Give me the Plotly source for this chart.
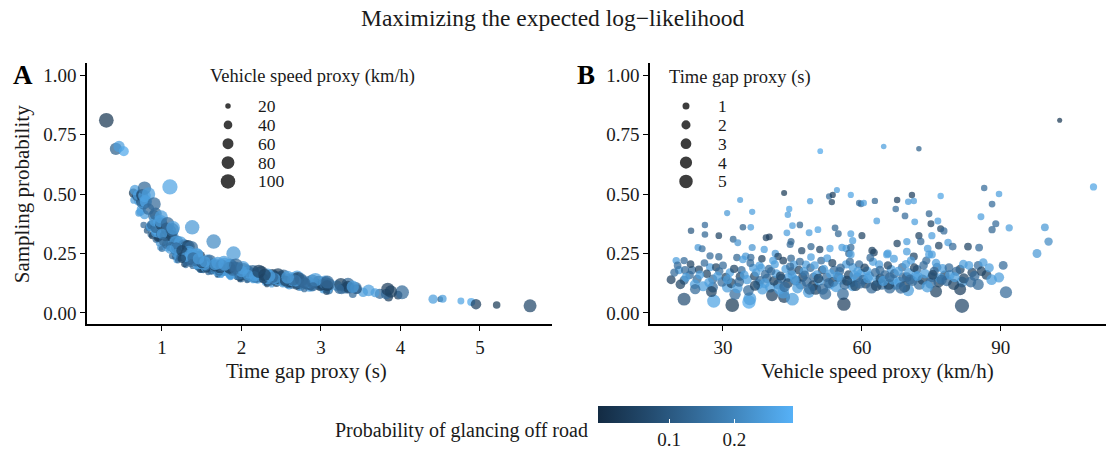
import math
import plotly.graph_objects as go

# ---------------- data ----------------
time_gap = [
    # outliers
    0.30, 0.42, 0.46, 0.52, 1.10, 1.38, 1.65, 1.90,
    # upper scattered points
    0.81, 0.77, 0.86, 0.98, 1.00, 1.13, 1.17, 0.88, 0.71, 0.93,
    0.97, 0.84, 0.65, 0.73, 0.85, 1.06, 0.95, 0.96, 0.64, 0.78,
    0.74, 0.86, 0.92, 1.06, 0.87, 1.17, 0.71, 0.95, 0.92, 1.16,
    0.69, 0.69, 0.66, 0.74, 0.92, 0.99, 0.70, 0.76, 1.08, 1.17,
    0.77, 0.76, 0.75, 0.78, 0.75, 0.80, 0.79, 0.78, 0.83, 0.90,
    0.91, 0.96, 0.92, 0.99, 0.98, 1.06, 1.10, 1.13, 1.11, 1.19,
    1.04, 1.00, 1.18, 1.17, 1.28, 1.23, 1.31, 1.30, 1.33, 1.37,
    0.78, 0.83, 0.90, 0.99, 1.07, 1.13, 1.14, 1.31, 1.34, 1.34,
    1.47, 1.44, 1.02, 1.11, 1.16, 1.18, 1.18, 1.29, 1.20, 1.20,
    1.10, 1.18, 1.25, 1.31,
    # band points
    1.98, 1.18, 1.20, 1.48, 1.50, 2.07, 4.50, 1.52, 2.00, 1.48,
    2.60, 1.45, 2.08, 2.72, 1.46, 1.98, 2.75, 5.21, 3.40, 1.95,
    1.28, 4.89, 4.53, 1.23, 1.54, 1.55, 2.58, 1.86, 2.88, 3.97,
    1.33, 2.64, 1.36, 3.85, 2.12, 1.77, 4.41, 1.49, 1.74, 2.73,
    1.50, 3.53, 2.19, 1.42, 1.78, 3.74, 2.81, 1.36, 1.79, 2.25,
    3.82, 4.95, 1.57, 1.70, 2.30, 1.31, 1.60, 2.00, 1.90, 1.25,
    1.63, 2.98, 1.36, 1.87, 3.05, 1.81, 2.44, 1.57, 1.93, 1.60,
    1.44, 2.50, 1.89, 2.97, 2.39, 1.95, 2.03, 3.05, 3.84, 5.63,
    2.25, 1.86, 1.78, 3.34, 2.70, 4.02,
    # tail / extra
    4.76, 3.20, 3.35, 3.45, 3.60, 3.68, 3.88,
    # dense fill
    1.70, 2.38, 1.71, 2.30, 1.62, 2.32, 1.69, 2.44, 2.85, 1.63,
    2.20, 3.10, 1.96, 1.75, 2.31, 3.03, 2.16, 1.61, 2.34, 1.85,
    3.09, 2.18, 1.65, 2.58, 1.95, 2.42, 3.05, 2.16, 1.80, 2.54,
    1.64, 2.87, 2.00, 2.47, 3.26, 2.21, 1.97, 2.62, 3.06, 1.87,
    2.45, 2.84, 2.08, 2.67, 2.99, 1.91, 2.50, 2.80, 2.22, 3.31,
    2.01, 2.65, 2.45, 2.16, 3.02, 2.60, 2.11, 2.84, 2.42, 3.34,
    2.09, 2.76, 2.35, 3.10, 2.70, 2.19, 3.05, 2.08, 2.64, 2.89,
    2.33, 3.25, 2.14, 2.71, 1.85, 2.53, 2.46, 2.93, 1.58, 2.32,
    # second fill
    1.30, 1.86, 1.28, 2.79, 1.74, 1.30, 3.07, 1.87, 1.39, 2.15,
    1.56, 2.35, 1.85, 1.36, 2.69, 1.44, 2.52, 1.72, 1.44, 2.00,
    2.90, 1.55, 2.33, 1.43, 1.97, 3.23, 1.54, 2.28, 1.72, 2.72,
    1.50, 2.16, 1.70, 2.55, 1.50, 2.08, 2.80, 1.73, 2.42, 1.54,
    3.08, 1.89, 2.68, 1.67, 2.39, 2.00, 3.44, 1.67, 2.65, 1.85,
    2.35, 1.75, 3.40, 2.29, 1.70, 2.75, 1.92, 2.58, 1.79, 3.08,
    2.22, 2.02, 1.93, 1.30, 1.39, 1.25, 1.46,
]

speed = [
    102.7, 72.3, 64.7, 51.0, 110.0, 99.5, 100.3, 97.8,
    23.1, 26.1, 26.1, 24.6, 25.5, 27.2, 29.1, 29.1, 30.9, 32.2,
    33.2, 34.3, 33.7, 36.3, 36.0, 36.3, 39.3, 40.0, 43.2, 44.0,
    44.3, 45.0, 43.8, 44.5, 46.6, 47.0, 48.8, 48.6, 50.5, 50.9,
    52.9, 53.7, 54.6, 53.5, 54.2, 54.9, 57.6, 59.4, 58.0, 55.7,
    59.8, 60.4, 62.8, 67.6, 70.8, 70.0, 71.2, 77.0, 67.3, 69.3,
    63.2, 71.4, 74.5, 74.9, 76.4, 77.0, 77.7, 75.1, 72.3, 72.7,
    60.0, 57.6, 67.6, 69.7, 76.6, 78.6, 79.6, 74.2, 82.9, 85.3,
    86.4, 89.6, 88.1, 85.7, 88.9, 88.1, 91.8, 62.6, 65.6, 69.7,
    71.2, 75.1, 44.7, 49.0, 53.1, 56.6, 57.6, 57.2, 33.0, 34.9,
    38.9, 41.3, 41.9, 44.7,
    18.8, 19.9, 21.6, 20.5, 21.8, 21.6, 21.6, 23.3, 24.4, 24.8,
    25.7, 27.2, 27.8, 27.8, 28.5, 30.6, 30.9, 32.0, 32.6, 33.7,
    34.3, 35.6, 35.8, 36.0, 36.5, 38.2, 37.6, 39.1, 40.2, 40.6,
    40.8, 41.9, 43.0, 43.2, 44.1, 44.8, 45.0, 45.3, 46.4, 46.8,
    47.9, 48.5, 49.6, 51.2, 51.4, 52.1, 53.0, 52.5, 54.0, 54.9,
    55.9, 56.1, 56.6, 58.0, 59.0, 57.6, 59.4, 59.8, 61.1, 62.2,
    63.7, 64.3, 65.4, 66.3, 67.4, 68.7, 69.7, 70.6, 71.9, 73.9,
    74.5, 75.1, 76.2, 76.6, 77.9, 77.4, 81.2, 81.6, 81.2, 81.6,
    83.8, 85.1, 86.2, 85.1, 89.6, 91.1,
    28.0, 58.0, 66.0, 50.0, 70.0, 43.0, 76.0,
    22.8, 23.9, 26.5, 27.0, 29.2, 29.8, 31.5, 31.8, 33.1, 34.0,
    35.2, 35.5, 36.8, 37.2, 38.0, 38.5, 39.5, 39.9, 41.0, 41.5,
    42.2, 42.6, 43.5, 44.0, 44.9, 45.8, 46.1, 47.2, 47.5, 48.1,
    48.9, 49.5, 50.2, 50.8, 51.5, 52.4, 53.2, 53.8, 54.4, 55.2,
    55.6, 56.3, 57.1, 57.8, 58.6, 59.1, 60.3, 60.8, 61.6, 62.1,
    62.9, 63.4, 64.0, 65.0, 65.8, 66.7, 67.0, 68.1, 68.9, 69.2,
    70.1, 70.9, 71.6, 72.4, 73.1, 73.6, 74.8, 75.6, 76.9, 78.3,
    79.0, 79.8, 80.4, 82.0, 83.1, 84.3, 86.9, 88.0, 19.5, 20.8,
    20.2, 22.0, 23.0, 24.0, 25.0, 26.0, 27.5, 28.8, 30.0, 31.0,
    32.4, 33.5, 34.6, 35.9, 36.9, 37.9, 39.0, 40.4, 41.2, 42.4,
    43.3, 44.5, 45.5, 46.6, 47.7, 48.7, 49.8, 50.6, 51.8, 52.8,
    53.6, 54.7, 55.4, 56.8, 57.4, 58.3, 59.6, 60.6, 61.3, 62.4,
    63.1, 63.9, 64.6, 65.6, 66.0, 67.8, 68.4, 69.5, 70.4, 71.3,
    72.0, 73.3, 74.1, 75.3, 76.0, 77.2, 78.8, 80.0, 81.9, 83.5,
    85.8, 87.5, 90.5, 49.0, 61.8, 38.4, 66.9,
]

sampling_prob = [
    0.81, 0.69, 0.70, 0.68, 0.53, 0.36, 0.30, 0.25,
    0.346, 0.37, 0.33, 0.275, 0.27, 0.24, 0.236, 0.325, 0.42, 0.31,
    0.295, 0.36, 0.475, 0.425, 0.36, 0.275, 0.316, 0.32, 0.504, 0.413,
    0.437, 0.367, 0.337, 0.288, 0.37, 0.262, 0.47, 0.337, 0.35, 0.267,
    0.49, 0.496, 0.517, 0.466, 0.358, 0.333, 0.496, 0.462, 0.304, 0.275,
    0.458, 0.462, 0.471, 0.475, 0.496, 0.467, 0.471, 0.492, 0.437, 0.408,
    0.387, 0.383, 0.417, 0.375, 0.387, 0.354, 0.345, 0.325, 0.325, 0.30,
    0.325, 0.333, 0.292, 0.30, 0.283, 0.296, 0.279, 0.271, 0.279, 0.275,
    0.525, 0.50, 0.458, 0.404, 0.375, 0.35, 0.358, 0.254, 0.25, 0.258,
    0.237, 0.246, 0.30, 0.279, 0.271, 0.271, 0.275, 0.25, 0.233, 0.238,
    0.267, 0.25, 0.237, 0.23,
    0.14, 0.22, 0.22, 0.18, 0.18, 0.1375, 0.058, 0.18, 0.142, 0.183,
    0.112, 0.192, 0.142, 0.108, 0.192, 0.15, 0.108, 0.033, 0.079, 0.154,
    0.225, 0.046, 0.06, 0.233, 0.19, 0.19, 0.12, 0.162, 0.108, 0.075,
    0.22, 0.12, 0.22, 0.067, 0.15, 0.175, 0.058, 0.204, 0.18, 0.12,
    0.204, 0.087, 0.15, 0.22, 0.18, 0.08, 0.12, 0.23, 0.18, 0.15,
    0.08, 0.037, 0.204, 0.192, 0.15, 0.246, 0.204, 0.167, 0.177, 0.262,
    0.204, 0.12, 0.246, 0.183, 0.12, 0.192, 0.15, 0.22, 0.183, 0.22,
    0.246, 0.15, 0.192, 0.13, 0.158, 0.187, 0.183, 0.13, 0.10, 0.03,
    0.17, 0.20, 0.212, 0.12, 0.15, 0.087,
    0.05, 0.115, 0.105, 0.10, 0.095, 0.085, 0.09,
    0.16, 0.12, 0.165, 0.128, 0.175, 0.13, 0.17, 0.125, 0.105, 0.18,
    0.14, 0.095, 0.155, 0.17, 0.135, 0.10, 0.145, 0.185, 0.135, 0.165,
    0.10, 0.145, 0.185, 0.125, 0.16, 0.135, 0.105, 0.15, 0.175, 0.13,
    0.19, 0.115, 0.16, 0.135, 0.10, 0.15, 0.165, 0.13, 0.11, 0.175,
    0.14, 0.12, 0.16, 0.13, 0.115, 0.175, 0.14, 0.125, 0.155, 0.105,
    0.17, 0.135, 0.145, 0.16, 0.12, 0.14, 0.165, 0.13, 0.15, 0.11,
    0.17, 0.135, 0.155, 0.12, 0.14, 0.165, 0.125, 0.175, 0.145, 0.135,
    0.16, 0.12, 0.175, 0.145, 0.20, 0.155, 0.16, 0.14, 0.17, 0.12,
    0.20, 0.15, 0.205, 0.10, 0.16, 0.21, 0.09, 0.155, 0.20, 0.14,
    0.185, 0.13, 0.16, 0.21, 0.115, 0.20, 0.125, 0.175, 0.205, 0.155,
    0.11, 0.195, 0.14, 0.215, 0.16, 0.10, 0.20, 0.145, 0.185, 0.125,
    0.21, 0.155, 0.19, 0.135, 0.215, 0.16, 0.125, 0.19, 0.145, 0.215,
    0.115, 0.18, 0.135, 0.20, 0.15, 0.175, 0.105, 0.205, 0.14, 0.19,
    0.155, 0.20, 0.11, 0.16, 0.21, 0.14, 0.19, 0.15, 0.205, 0.13,
    0.175, 0.19, 0.20, 0.235, 0.232, 0.228, 0.228,
]

glance_prob = [
    0.02, 0.12, 0.25, 0.27, 0.26, 0.24, 0.21, 0.24,
    0.10, 0.14, 0.13, 0.24, 0.15, 0.14, 0.13, 0.05, 0.24, 0.13,
    0.23, 0.12, 0.25, 0.25, 0.25, 0.23, 0.05, 0.04, 0.03, 0.25,
    0.26, 0.25, 0.25, 0.14, 0.13, 0.06, 0.25, 0.25, 0.26, 0.05,
    0.14, 0.04, 0.25, 0.05, 0.13, 0.13, 0.26, 0.14, 0.25, 0.25,
    0.14, 0.25, 0.13, 0.04, 0.04, 0.25, 0.25, 0.26, 0.14, 0.14,
    0.25, 0.25, 0.13, 0.05, 0.25, 0.05, 0.14, 0.25, 0.05, 0.14,
    0.05, 0.25, 0.05, 0.25, 0.05, 0.25, 0.14, 0.25, 0.05, 0.14,
    0.14, 0.25, 0.14, 0.25, 0.14, 0.13, 0.25, 0.05, 0.25, 0.25,
    0.05, 0.25, 0.13, 0.13, 0.26, 0.25, 0.14, 0.13, 0.13, 0.24,
    0.25, 0.24, 0.05, 0.13,
    0.04, 0.25, 0.14, 0.25, 0.14, 0.13, 0.08, 0.14, 0.13, 0.05,
    0.25, 0.25, 0.14, 0.14, 0.05, 0.05, 0.25, 0.03, 0.14, 0.05,
    0.25, 0.27, 0.25, 0.14, 0.25, 0.25, 0.25, 0.14, 0.25, 0.04,
    0.25, 0.14, 0.04, 0.04, 0.25, 0.14, 0.25, 0.25, 0.05, 0.14,
    0.25, 0.25, 0.14, 0.14, 0.04, 0.14, 0.25, 0.25, 0.14, 0.05,
    0.14, 0.04, 0.25, 0.25, 0.14, 0.25, 0.14, 0.25, 0.25, 0.05,
    0.25, 0.14, 0.25, 0.25, 0.25, 0.14, 0.05, 0.25, 0.14, 0.14,
    0.25, 0.14, 0.14, 0.05, 0.05, 0.25, 0.05, 0.25, 0.04, 0.06,
    0.05, 0.14, 0.25, 0.14, 0.25, 0.14,
    0.26, 0.25, 0.14, 0.05, 0.25, 0.25, 0.05,
    0.14, 0.25, 0.05, 0.25, 0.14, 0.14, 0.25, 0.05, 0.25, 0.14,
    0.25, 0.14, 0.05, 0.25, 0.14, 0.25, 0.14, 0.14, 0.05, 0.25,
    0.25, 0.14, 0.25, 0.05, 0.25, 0.14, 0.25, 0.05, 0.25, 0.14,
    0.14, 0.05, 0.25, 0.25, 0.14, 0.14, 0.25, 0.05, 0.25, 0.14,
    0.25, 0.14, 0.05, 0.25, 0.05, 0.25, 0.14, 0.05, 0.25, 0.14,
    0.14, 0.25, 0.05, 0.14, 0.05, 0.25, 0.14, 0.25, 0.14, 0.05,
    0.25, 0.14, 0.25, 0.14, 0.05, 0.25, 0.14, 0.14, 0.25, 0.14,
    0.25, 0.05, 0.14, 0.05, 0.25, 0.14, 0.05, 0.25, 0.14, 0.05,
    0.14, 0.25, 0.05, 0.14, 0.25, 0.14, 0.05, 0.25, 0.14, 0.25,
    0.05, 0.14, 0.25, 0.14, 0.05, 0.25, 0.25, 0.14, 0.25, 0.05,
    0.14, 0.14, 0.25, 0.14, 0.14, 0.14, 0.25, 0.05, 0.25, 0.14,
    0.05, 0.25, 0.14, 0.05, 0.14, 0.25, 0.14, 0.05, 0.25, 0.25,
    0.05, 0.14, 0.25, 0.05, 0.14, 0.25, 0.14, 0.25, 0.14, 0.05,
    0.25, 0.14, 0.25, 0.05, 0.25, 0.14, 0.14, 0.25, 0.25, 0.14,
    0.05, 0.25, 0.14, 0.25, 0.14, 0.05, 0.25,
]

speed_breaks = [20, 40, 60, 80, 100]
gap_breaks = [1, 2, 3, 4, 5]
y_ticks = [0, 0.25, 0.5, 0.75, 1.0]
y_ticktext = ["0.00", "0.25", "0.50", "0.75", "1.00"]

# ---------------- styling ----------------
W, H = 1106, 455
FONT = "Liberation Serif"
TXT = "#1a1a1a"


def d_speed(v):
    return math.sqrt(max(2.25 * v - 15.0, 16.0))


def d_gap(t):
    return math.sqrt(15.75 + 33.25 * t)


size_a = [d_speed(v) for v in speed]
size_b = [d_gap(t) for t in time_gap]

colorscale = [[0.0, "#132B43"], [0.25, "#22496C"], [0.5, "#336A98"],
              [0.75, "#448DC6"], [1.0, "#56B1F7"]]

fig = go.Figure()
fig.add_trace(go.Scatter(
    x=time_gap, y=sampling_prob, mode="markers", xaxis="x", yaxis="y",
    marker=dict(size=size_a, color=glance_prob, coloraxis="coloraxis",
                opacity=0.72, line=dict(width=0)),
    showlegend=False, hoverinfo="skip"))
fig.add_trace(go.Scatter(
    x=speed, y=sampling_prob, mode="markers", xaxis="x2", yaxis="y2",
    marker=dict(size=size_b, color=glance_prob, coloraxis="coloraxis",
                opacity=0.72, line=dict(width=0)),
    showlegend=False, hoverinfo="skip"))

ydom = [(H - 327) / H, (H - 64) / H]
axis_common = dict(showline=True, linecolor="black", linewidth=1.6,
                   ticks="outside", ticklen=5, tickwidth=1.4, tickcolor="black",
                   showgrid=False, zeroline=False,
                   tickfont=dict(family=FONT, size=19, color=TXT))

fig.update_layout(
    width=W, height=H, margin=dict(l=0, r=0, t=0, b=0),
    paper_bgcolor="white", plot_bgcolor="white",
    xaxis=dict(domain=[87 / W, 552 / W], range=[0.057, 5.906],
               tickvals=[1, 2, 3, 4, 5], anchor="y", **axis_common),
    yaxis=dict(domain=ydom, range=[-0.047, 1.049], tickvals=y_ticks,
               ticktext=y_ticktext, anchor="x", **axis_common),
    xaxis2=dict(domain=[650 / W, 1.0], range=[14.24, 112.7],
                tickvals=[30, 60, 90], anchor="y2", **axis_common),
    yaxis2=dict(domain=ydom, range=[-0.047, 1.049], tickvals=y_ticks,
                ticktext=y_ticktext, anchor="x2", **axis_common),
    coloraxis=dict(
        colorscale=colorscale, cmin=-0.009, cmax=0.29,
        colorbar=dict(orientation="h", x=598 / W, xanchor="left",
                      y=1 - 410 / H, yanchor="top", len=195, lenmode="pixels",
                      thickness=17, xpad=0, ypad=0, outlinewidth=0,
                      tickvals=[0.1, 0.2], ticktext=["0.1", "0.2"],
                      ticks="inside", ticklen=4, tickcolor="white", tickwidth=1,
                      tickfont=dict(family=FONT, size=19, color=TXT))),
)


def px(x):
    return x / W


def py(y):
    return 1 - y / H


annotations = [
    dict(text="Maximizing the expected log\u2212likelihood", x=0.5, y=py(18),
         font=dict(size=23.5)),
    dict(text="<b>A</b>", x=px(23), y=py(76), font=dict(size=27, color="black")),
    dict(text="<b>B</b>", x=px(586), y=py(76), font=dict(size=27, color="black")),
    dict(text="Sampling probability", x=px(22), y=py(196), textangle=-90,
         font=dict(size=21)),
    dict(text="Time gap proxy (s)", x=px(306), y=py(374), font=dict(size=21)),
    dict(text="Vehicle speed proxy (km/h)", x=px(877), y=py(374), font=dict(size=21)),
    dict(text="Vehicle speed proxy (km/h)", x=px(208), y=py(77), xanchor="left",
         font=dict(size=18.5)),
    dict(text="Time gap proxy (s)", x=px(667), y=py(78), xanchor="left",
         font=dict(size=18.5)),
    dict(text="Probability of glancing off road", x=px(590), y=py(434),
         xanchor="right", font=dict(size=20)),
]
shapes = []
key_y = [107, 126, 145, 164, 183]
for val, yy in zip(speed_breaks, key_y):
    r = d_speed(val) / 2
    shapes.append(dict(type="circle", xref="paper", yref="paper",
                       xsizemode="pixel", ysizemode="pixel",
                       xanchor=px(228), yanchor=py(yy), x0=-r, x1=r, y0=-r, y1=r,
                       fillcolor="#3d3d3d", line=dict(width=0)))
    annotations.append(dict(text=str(val), x=px(256), y=py(yy), xanchor="left",
                            font=dict(size=17.5)))
for val, yy in zip(gap_breaks, key_y):
    r = d_gap(val) / 2
    shapes.append(dict(type="circle", xref="paper", yref="paper",
                       xsizemode="pixel", ysizemode="pixel",
                       xanchor=px(686), yanchor=py(yy), x0=-r, x1=r, y0=-r, y1=r,
                       fillcolor="#3d3d3d", line=dict(width=0)))
    annotations.append(dict(text=str(val), x=px(716), y=py(yy), xanchor="left",
                            font=dict(size=17.5)))

for a in annotations:
    a.setdefault("xref", "paper")
    a.setdefault("yref", "paper")
    a.setdefault("showarrow", False)
    a.setdefault("xanchor", "center")
    a.setdefault("yanchor", "middle")
    f = a.setdefault("font", {})
    f.setdefault("family", FONT)
    f.setdefault("color", TXT)

fig.update_layout(annotations=annotations, shapes=shapes)
fig.write_html("out.html")
